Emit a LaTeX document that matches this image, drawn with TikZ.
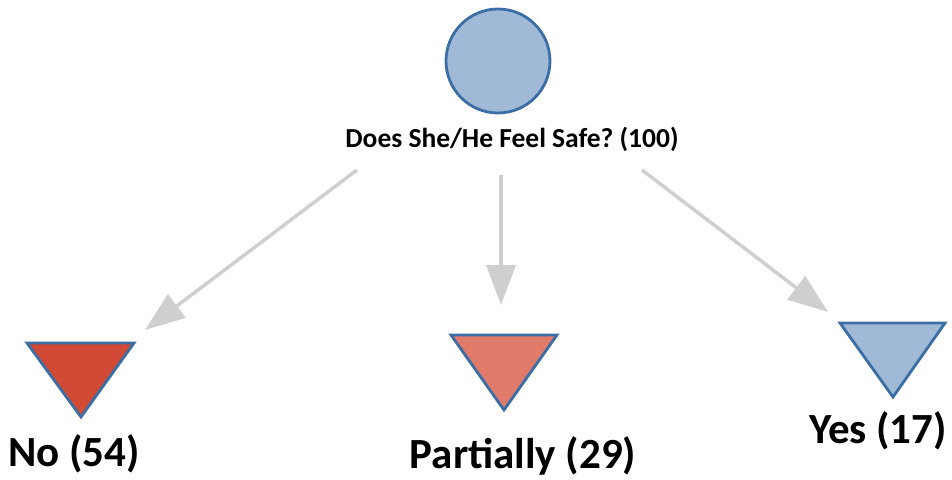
\documentclass[tikz,border=0pt]{standalone}
\usepackage{fontspec}
\setmainfont{Carlito}
\usetikzlibrary{arrows.meta}
\frenchspacing
\definecolor{edgeblue}{HTML}{3B6EA5}
\definecolor{rootfill}{HTML}{A0B9D6}
\definecolor{nofill}{HTML}{D04A36}
\definecolor{partfill}{HTML}{E07B6C}
\definecolor{yesfill}{HTML}{A0B9D6}
\definecolor{flowgray}{HTML}{CFCFCF}
\tikzset{
  tri/.style={draw=edgeblue, line width=2.8pt, line join=miter},
  flow/.style={draw=flowgray, line width=3.5pt,
    -{Triangle[length=40pt, width=29pt, fill=flowgray]}},
  lbl/.style={font=\bfseries\fontsize{43}{47}\selectfont, anchor=base, inner sep=0pt},
}
\begin{document}
\begin{tikzpicture}[x=1pt, y=-1pt]
  \useasboundingbox (0,0) rectangle (952,479);
  % root
  \node[circle, draw=edgeblue, line width=2.8pt, fill=rootfill,
        minimum size=104pt, inner sep=0pt] (root) at (498,61) {};
  \node[font=\bfseries\fontsize{27.5}{31}\selectfont, anchor=base, inner sep=0pt]
        (question) at (512,147) {Does She/He Feel Safe? (100)};
  % outcome triangles
  \draw[tri, fill=nofill]   (27,343) -- (134,343) -- (81,417) -- cycle;
  \draw[tri, fill=partfill] (451,335) -- (557,335) -- (504,410) -- cycle;
  \draw[tri, fill=yesfill]  (840,323) -- (945,323) -- (893,397) -- cycle;
  % outcome labels
  \node[lbl] (no)   at (74,466)  {No (54)};
  \node[lbl] (part) at (523,468) {Partially (29)};
  \node[lbl] (yes)  at (878,443) {Yes (17)};
  % arrow ends
  \coordinate (s1) at (357,170); \coordinate (t1) at (145,330);
  \coordinate (s2) at (501,175); \coordinate (t2) at (501,305);
  \coordinate (s3) at (642,170); \coordinate (t3) at (828,312);
  \draw[flow] (s1) -- (t1);
  \draw[flow] (s2) -- (t2);
  \draw[flow] (s3) -- (t3);
\end{tikzpicture}
\end{document}
